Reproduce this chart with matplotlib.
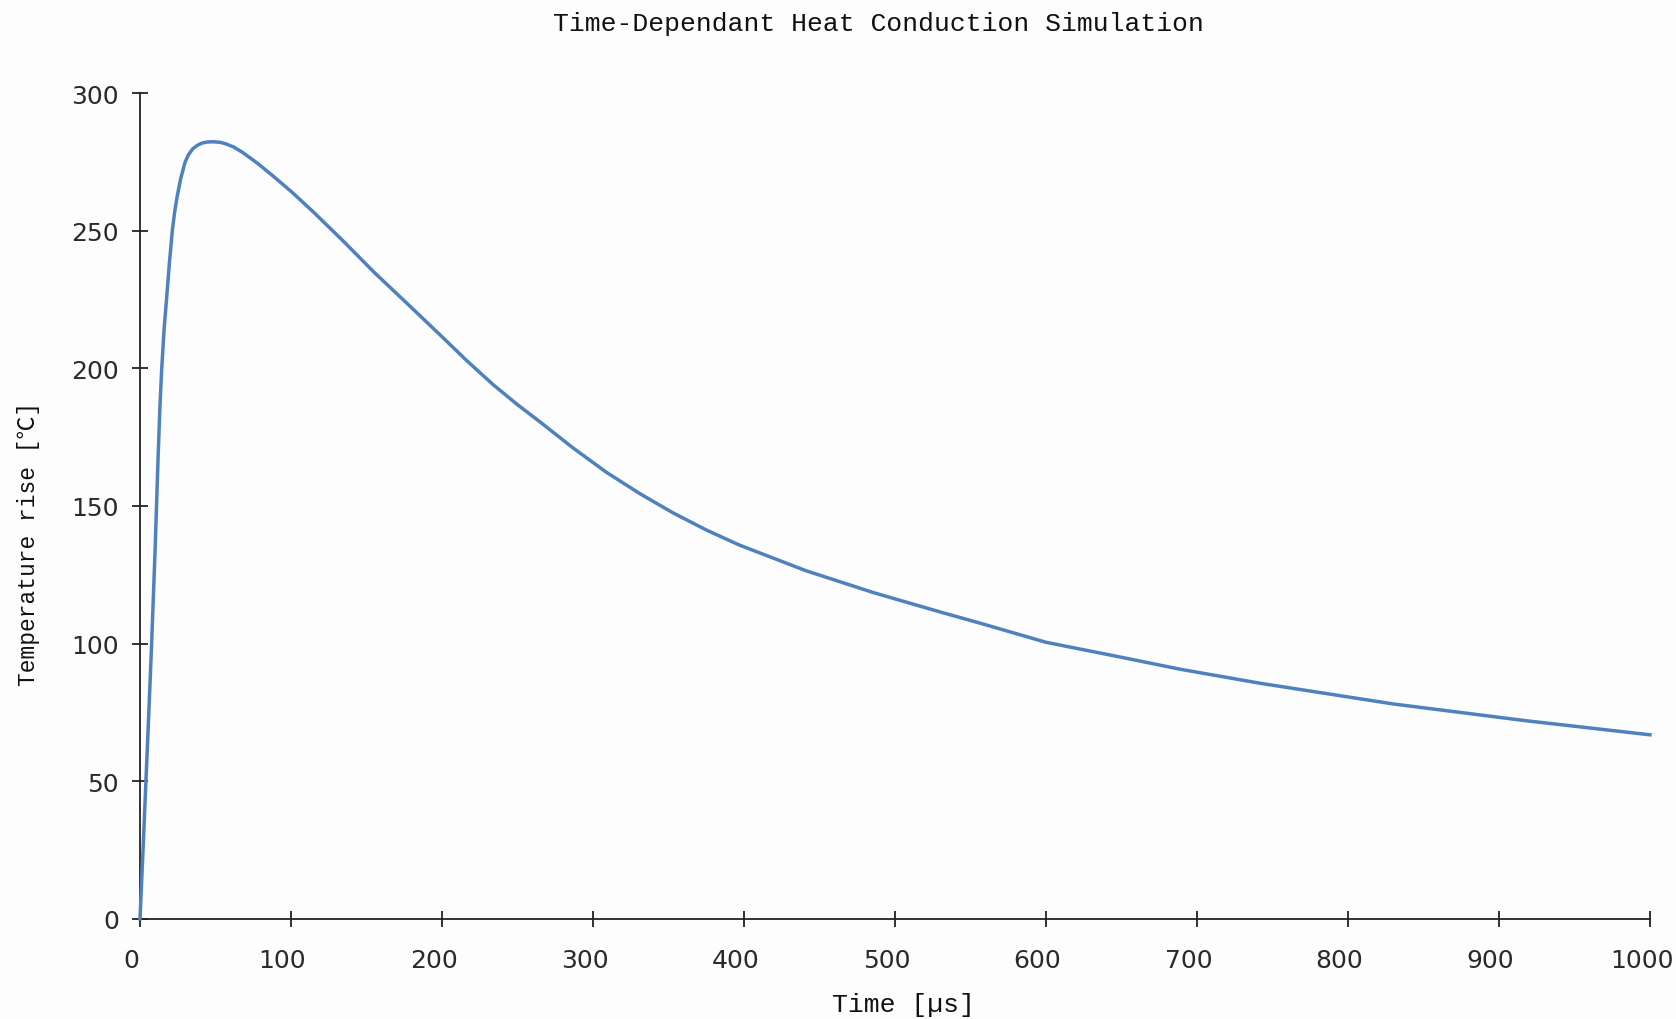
import matplotlib.pyplot as plt
from matplotlib.transforms import ScaledTranslation

# values
time_us = [0, 2, 4, 6, 7.7, 10, 12, 13.2, 14.4, 16, 17.7, 19.5, 21.4, 23,
           24.7, 27, 29.8, 32, 34.9, 38, 41, 44.5, 48.5, 53, 57, 62, 68, 78,
           88, 100, 115, 135, 155, 177, 199, 216, 234, 250, 265, 287, 309,
           331, 353, 375, 397, 441, 486, 530, 556, 600, 645, 689, 742, 830,
           918, 1000]
temp_rise = [0, 25, 51, 77, 100, 134, 168, 186, 200, 214.5, 226, 238.5, 250,
             257, 262.7, 269, 274.8, 277.5, 279.7, 281, 281.8, 282.2, 282.3,
             282.1, 281.5, 280.4, 278.4, 274.4, 269.9, 264.3, 256.7, 246,
             234.9, 223.5, 212, 203, 194, 186.8, 180.5, 171, 162.2, 154.5,
             147.5, 141.3, 135.8, 126.5, 118.5, 111.5, 107.5, 100.5, 95.6,
             90.7, 85.6, 78.1, 72.0, 66.9]
x_ticks = [0, 100, 200, 300, 400, 500, 600, 700, 800, 900, 1000]
y_ticks = [0, 50, 100, 150, 200, 250, 300]

mono = ['Liberation Mono', 'Noto Sans CJK SC', 'DejaVu Sans']
bg = '#fdfdfd'

fig = plt.figure(figsize=(16.76, 10.2), dpi=100, facecolor=bg)
ax = fig.add_axes([140 / 1676, 1 - 920 / 1020, 1510 / 1676, 826 / 1020])
ax.set_facecolor(bg)

ax.plot(time_us, temp_rise, color='#4f81bd', linewidth=2.5, zorder=3,
        clip_on=False, solid_joinstyle='round')

ax.set_xlim(0, 1000)
ax.set_ylim(0, 300)
ax.set_xticks(x_ticks)
ax.set_yticks(y_ticks)

for side in ['top', 'right']:
    ax.spines[side].set_visible(False)
for side in ['left', 'bottom']:
    ax.spines[side].set_color('#222222')
    ax.spines[side].set_linewidth(1.3)

ax.tick_params(axis='both', direction='inout', length=12, width=1.3,
               color='#222222', labelsize=18, labelcolor='#2a2a2a')
ax.tick_params(axis='x', pad=15)
ax.tick_params(axis='y', pad=9)

# x tick labels sit a little left of their ticks in the reference
shift = ScaledTranslation(-8.5 / 100, 0, fig.dpi_scale_trans)
for lab in ax.get_xticklabels():
    lab.set_transform(lab.get_transform() + shift)

# title and axis labels
fig.text(0.524, 0.976, 'Time-Dependant Heat Conduction Simulation',
         family=mono, fontsize=19, ha='center', va='center', color='#111111')
fig.text(0.539, 0.0147, 'Time [µs]', family=mono, fontsize=19,
         ha='center', va='center', color='#111111')
fig.text(0.0172, 0.4667, 'Temperature rise [℃]', family=mono, fontsize=16.5,
         ha='center', va='center', rotation=90, color='#111111')

plt.savefig('out.png', facecolor=bg)
